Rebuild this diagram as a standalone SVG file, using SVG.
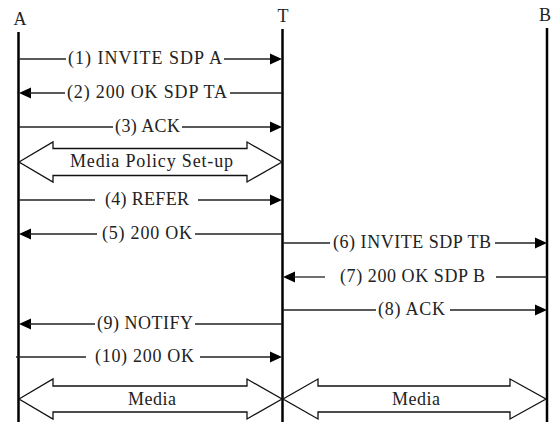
<svg xmlns="http://www.w3.org/2000/svg" width="556" height="422" viewBox="0 0 556 422">
  <style>
    .life { stroke: #000; stroke-width: 2.5; fill: none; }
    .msg { stroke: #222; stroke-width: 1.3; fill: none; }
    .head { fill: #000; stroke: none; }
    .band { fill: #fff; stroke: #111; stroke-width: 1.3; stroke-linejoin: miter; }
    text { font-family: "Liberation Serif", "Times New Roman", serif; font-size: 18px; fill: #222; }
    .name { text-anchor: middle; }
  </style>
  <rect width="556" height="422" fill="#fff"/>

  <!-- participants -->
  <g id="node-A">
    <text class="name" x="20" y="25">A</text>
    <line class="life" x1="18.5" y1="32" x2="18.5" y2="422"/>
  </g>
  <g id="node-T">
    <text class="name" x="283" y="22">T</text>
    <line class="life" x1="282.5" y1="29" x2="282.5" y2="422"/>
  </g>
  <g id="node-B">
    <text class="name" x="545" y="21">B</text>
    <line class="life" x1="547" y1="28" x2="547" y2="422"/>
  </g>

  <!-- messages -->
  <g id="connectors">
    <!-- (1) A -> T -->
    <line class="msg" x1="19" y1="59" x2="66" y2="59"/>
    <line class="msg" x1="224" y1="59" x2="272" y2="59"/>
    <polygon class="head" points="282,59 270,53.5 270,64.5"/>
    <text x="68" y="64" textLength="154" lengthAdjust="spacing">(1) INVITE SDP A</text>

    <!-- (2) T -> A -->
    <polygon class="head" points="19,93 31,87.5 31,98.5"/>
    <line class="msg" x1="29" y1="93" x2="65" y2="93"/>
    <line class="msg" x1="230" y1="93" x2="282" y2="93"/>
    <text x="67" y="98" textLength="160" lengthAdjust="spacing">(2) 200 OK SDP TA</text>

    <!-- (3) A -> T -->
    <line class="msg" x1="19" y1="127" x2="113" y2="127"/>
    <line class="msg" x1="182" y1="127" x2="272" y2="127"/>
    <polygon class="head" points="282,127 270,121.5 270,132.5"/>
    <text x="115" y="132" textLength="65" lengthAdjust="spacing">(3) ACK</text>

    <!-- media policy band A <-> T -->
    <polygon class="band" points="19,162 53,142 53,148.5 247,148.5 247,142 282,162 247,182 247,175.5 53,175.5 53,182"/>
    <text x="70" y="167" textLength="163" lengthAdjust="spacing">Media Policy Set-up</text>

    <!-- (4) A -> T -->
    <line class="msg" x1="19" y1="200" x2="95" y2="200"/>
    <line class="msg" x1="198" y1="200" x2="272" y2="200"/>
    <polygon class="head" points="282,200 270,194.5 270,205.5"/>
    <text x="105" y="205" textLength="84" lengthAdjust="spacing">(4) REFER</text>

    <!-- (5) T -> A -->
    <polygon class="head" points="19,234 31,228.5 31,239.5"/>
    <line class="msg" x1="29" y1="234" x2="97" y2="234"/>
    <line class="msg" x1="195" y1="234" x2="282" y2="234"/>
    <text x="102" y="239" textLength="90" lengthAdjust="spacing">(5) 200 OK</text>

    <!-- (6) T -> B -->
    <line class="msg" x1="283" y1="243" x2="330" y2="243"/>
    <line class="msg" x1="495" y1="243" x2="537" y2="243"/>
    <polygon class="head" points="547,243 535,237.5 535,248.5"/>
    <text x="333" y="248" textLength="158" lengthAdjust="spacing">(6) INVITE SDP TB</text>

    <!-- (7) B -> T -->
    <polygon class="head" points="283,277 295,271.5 295,282.5"/>
    <line class="msg" x1="293" y1="277" x2="325" y2="277"/>
    <line class="msg" x1="496" y1="277" x2="547" y2="277"/>
    <text x="340" y="282" textLength="145" lengthAdjust="spacing">(7) 200 OK SDP B</text>

    <!-- (8) T -> B -->
    <line class="msg" x1="283" y1="310" x2="376" y2="310"/>
    <line class="msg" x1="450" y1="310" x2="537" y2="310"/>
    <polygon class="head" points="547,310 535,304.5 535,315.5"/>
    <text x="378" y="315" textLength="67" lengthAdjust="spacing">(8) ACK</text>

    <!-- (9) T -> A -->
    <polygon class="head" points="19,324 31,318.5 31,329.5"/>
    <line class="msg" x1="29" y1="324" x2="95" y2="324"/>
    <line class="msg" x1="195" y1="324" x2="282" y2="324"/>
    <text x="97" y="329" textLength="96" lengthAdjust="spacing">(9) NOTIFY</text>

    <!-- (10) A -> T -->
    <line class="msg" x1="16" y1="357" x2="86" y2="357"/>
    <line class="msg" x1="200" y1="357" x2="272" y2="357"/>
    <polygon class="head" points="282,357 270,351.5 270,362.5"/>
    <text x="95" y="362" textLength="99" lengthAdjust="spacing">(10) 200 OK</text>

    <!-- media bands -->
    <polygon class="band" points="19,399 53,379 53,386 247,386 247,379 282,399 247,419 247,412 53,412 53,419"/>
    <text x="128" y="405" textLength="48" lengthAdjust="spacing">Media</text>
    <polygon class="band" points="283,399 318,379 318,386 510,386 510,379 546,399 510,419 510,412 318,412 318,419"/>
    <text x="392" y="405" textLength="48" lengthAdjust="spacing">Media</text>
  </g>
</svg>
